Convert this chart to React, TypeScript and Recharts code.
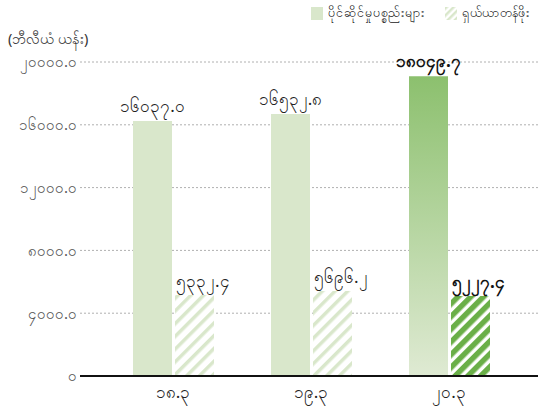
import { BarChart, Bar, XAxis, YAxis, CartesianGrid, LabelList, Cell } from "recharts";

const CATEGORIES = ["၁၈.၃", "၁၉.၃", "၂၀.၃"];
// bar heights as drawn in the picture
const ASSETS = [16240, 16690, 19100];
const SHARES = [5160, 5410, 5100];
// value labels as printed on the picture
const ASSET_LABELS = ["၁၆၀၃၇.၀", "၁၆၅၃၂.၈", "၁၈၀၄၉.၇"];
const SHARE_LABELS = ["၅၃၃၂.၄", "၅၆၉၆.၂", "၅၂၂၇.၄"];
const Y_TICKS = [0, 4000, 8000, 12000, 16000, 20000];

const ASSET_NAME = "ပိုင်ဆိုင်မှုပစ္စည်းများ";
const SHARE_NAME = "ရှယ်ယာတန်ဖိုး";
const UNIT = "(ဘီလီယံ ယန်း)";

const DATA = CATEGORIES.map((year, i) => ({
  year,
  assets: ASSETS[i],
  shares: SHARES[i],
  assetLabel: ASSET_LABELS[i],
  shareLabel: SHARE_LABELS[i],
}));

const FONT = "'Noto Sans', 'DejaVu Sans', sans-serif";
const LIGHT = "#d9e7cb";
const DARK = "#6aaf48";

const MY_DIGITS = "၀၁၂၃၄၅၆၇၈၉";
const toMy = (s: string) => s.replace(/[0-9]/g, (d) => MY_DIGITS[Number(d)]);
const fmt = (v: number) => (v === 0 ? toMy("0") : toMy(v.toFixed(1)));

// eslint-disable-next-line @typescript-eslint/no-explicit-any
function AssetLabel(props: any) {
  const { x, y, width, value, index } = props;
  const last = index === ASSETS.length - 1;
  return (
    <text
      x={x + width / 2}
      y={y - 9}
      textAnchor="middle"
      fontSize={17}
      fontWeight={last ? 700 : 400}
      fill={last ? "#111" : "#222"}
      fontFamily={FONT}
    >
      {value}
    </text>
  );
}

// eslint-disable-next-line @typescript-eslint/no-explicit-any
function ShareLabel(props: any) {
  const { x, y, value, index } = props;
  const last = index === SHARES.length - 1;
  return (
    <text
      x={x + 1}
      y={y - 8}
      textAnchor="start"
      fontSize={17}
      fontWeight={last ? 700 : 400}
      fill={last ? "#111" : "#222"}
      fontFamily={FONT}
    >
      {value}
    </text>
  );
}

export default function App() {
  return (
    <div style={{ position: "fixed", left: 0, top: 0, width: 540, height: 409, background: "#fff", fontFamily: FONT }}>
      {/* legend */}
      <div style={{ position: "absolute", top: 4, left: 311, display: "flex", alignItems: "center", fontSize: 12.5, color: "#222" }}>
        <span style={{ width: 12, height: 13, background: LIGHT, display: "inline-block", marginRight: 5 }} />
        <span>{ASSET_NAME}</span>
      </div>
      <div style={{ position: "absolute", top: 4, left: 445, display: "flex", alignItems: "center", fontSize: 12.5, color: "#222" }}>
        <svg width={12} height={13} style={{ marginRight: 5 }}>
          <defs>
            <pattern id="hatchLightLegend" patternUnits="userSpaceOnUse" width={5} height={5} patternTransform="rotate(45)">
              <rect width={5} height={5} fill="#fff" />
              <rect width={2.5} height={5} fill={LIGHT} />
            </pattern>
          </defs>
          <rect width={12} height={13} fill="url(#hatchLightLegend)" />
        </svg>
        <span>{SHARE_NAME}</span>
      </div>
      <div style={{ position: "absolute", top: 28, left: 8, fontSize: 14.5, color: "#333" }}>{UNIT}</div>

      <BarChart
        width={540}
        height={409}
        data={DATA}
        margin={{ top: 62, right: 2, left: 0, bottom: 3 }}
        barSize={39}
        barGap={3}
        barCategoryGap={28}
      >
        <defs>
          <linearGradient id="assetGrad" x1="0" y1="0" x2="0" y2="1">
            <stop offset="0%" stopColor="#8cc06e" />
            <stop offset="100%" stopColor="#dfead3" />
          </linearGradient>
          <pattern id="hatchLight" patternUnits="userSpaceOnUse" width={9} height={9} patternTransform="rotate(45)">
            <rect width={9} height={9} fill="#fff" />
            <rect width={3.5} height={9} fill={LIGHT} />
          </pattern>
          <pattern id="hatchDark" patternUnits="userSpaceOnUse" width={9} height={9} patternTransform="rotate(45)">
            <rect width={9} height={9} fill="#fff" />
            <rect width={5.5} height={9} fill={DARK} />
          </pattern>
        </defs>
        <CartesianGrid vertical={false} stroke="#b0b0b0" strokeDasharray="2 2" />
        <XAxis
          dataKey="year"
          height={30}
          padding={{ left: 24, right: 20 }}
          tick={{ fontSize: 17, fill: "#222", fontFamily: FONT }}
          tickLine={false}
          axisLine={{ stroke: "#111", strokeWidth: 2 }}
          tickMargin={4}
        />
        <YAxis
          width={80}
          domain={[0, 20000]}
          ticks={Y_TICKS}
          tickFormatter={fmt}
          tick={{ fontSize: 15, fill: "#555", fontFamily: FONT }}
          axisLine={false}
          tickLine={false}
          tickSize={0}
          tickMargin={3}
        />
        <Bar dataKey="assets" isAnimationActive={false}>
          {DATA.map((_, i) => (
            <Cell key={i} fill={i === DATA.length - 1 ? "url(#assetGrad)" : LIGHT} />
          ))}
          <LabelList dataKey="assetLabel" content={<AssetLabel />} />
        </Bar>
        <Bar dataKey="shares" isAnimationActive={false}>
          {DATA.map((_, i) => (
            <Cell key={i} fill={i === DATA.length - 1 ? "url(#hatchDark)" : "url(#hatchLight)"} />
          ))}
          <LabelList dataKey="shareLabel" content={<ShareLabel />} />
        </Bar>
      </BarChart>
    </div>
  );
}
